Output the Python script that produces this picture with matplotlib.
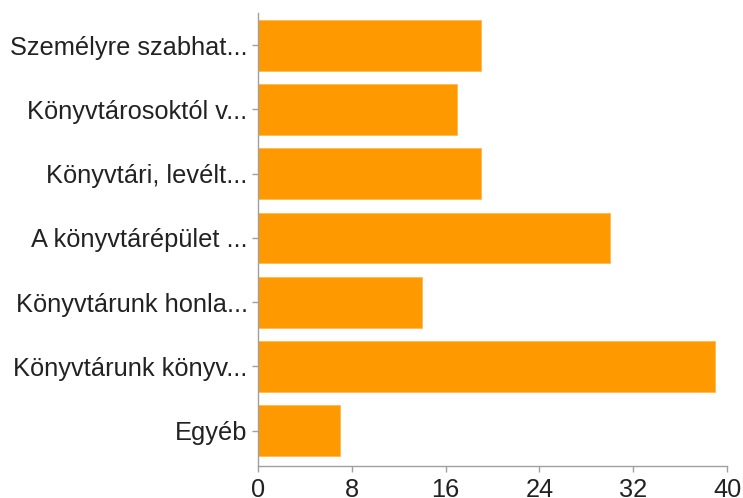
import matplotlib
matplotlib.use("Agg")
import matplotlib.pyplot as plt

categories = [
    "Személyre szabhat...",
    "Könyvtárosoktól v...",
    "Könyvtári, levélt...",
    "A könyvtárépület ...",
    "Könyvtárunk honla...",
    "Könyvtárunk könyv...",
    "Egyéb",
]
values = [19, 17, 19, 30, 14, 39, 7]
xticks = [0, 8, 16, 24, 32, 40]

plt.rcParams['font.family'] = ['Liberation Sans', 'DejaVu Sans']

fig = plt.figure(figsize=(7.43, 4.98), dpi=100)
ax = fig.add_axes([258/743, 1 - 466/498, (727 - 258)/743, (466 - 13)/498])

y = list(range(len(categories)))
ax.barh(y, values, height=0.79, color='#ff9900', edgecolor='#ffb84d', linewidth=0.6)

ax.set_xlim(0, 40)
ax.set_ylim(6.55, -0.5)
ax.set_xticks(xticks)
ax.set_xticklabels([str(t) for t in xticks])
ax.set_yticks(y)
ax.set_yticklabels(categories)

for s in ['top', 'right']:
    ax.spines[s].set_visible(False)
for s in ['left', 'bottom']:
    ax.spines[s].set_color('#a0a0a0')
    ax.spines[s].set_linewidth(1.0)

ax.tick_params(axis='both', colors='#a0a0a0', length=4.5, width=1.0,
               labelsize=18.3, labelcolor='#222222')
ax.tick_params(axis='y', pad=3)
ax.tick_params(axis='x', pad=4)

fig.savefig("out.png", dpi=100)
